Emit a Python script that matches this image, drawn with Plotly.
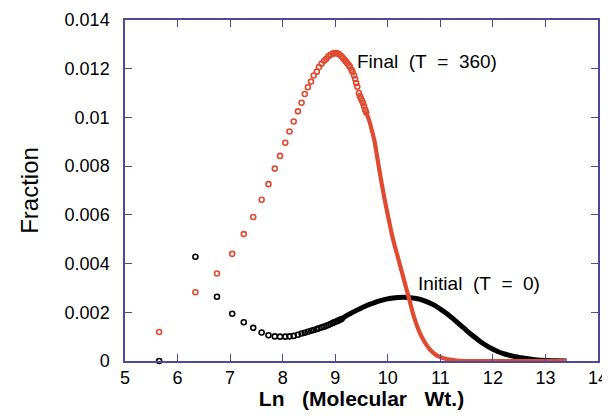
import plotly.graph_objects as go

# ---- data ----
# Final (T = 360): individually visible points
final_pts_x = [5.65, 6.34, 6.75, 7.04, 7.26, 7.44, 7.60, 7.73, 7.85, 7.95, 8.05, 8.13, 8.21, 8.29,
               8.36, 8.42, 8.48, 8.54, 8.59, 8.65, 8.69, 8.74, 8.79, 8.83, 8.87, 8.91, 8.95, 8.98,
               9.02, 9.05, 9.08, 9.12, 9.15, 9.18, 9.20, 9.23, 9.26, 9.28, 9.31, 9.33, 9.36, 9.38,
               9.40, 9.42, 9.45, 9.47, 9.49, 9.51, 9.53, 9.55, 9.57, 9.59]
final_pts_y = [0.00119, 0.00282, 0.00359, 0.00440, 0.00521, 0.00591, 0.00662, 0.00726, 0.00790,
               0.00842, 0.00896, 0.00942, 0.00983, 0.01025, 0.01060, 0.01096, 0.01124, 0.01147,
               0.01172, 0.01188, 0.01207, 0.01220, 0.01233, 0.01241, 0.01251, 0.01257, 0.01261,
               0.01264, 0.01264, 0.01262, 0.01258, 0.01251, 0.01243, 0.01236, 0.01230, 0.01222,
               0.01214, 0.01208, 0.01196, 0.01187, 0.01172, 0.01158, 0.01141, 0.01126, 0.01100,
               0.01088, 0.01078, 0.01068, 0.01058, 0.01045, 0.01031, 0.01020]
# Final: dense region (points merge into a band)
final_dense_x = [9.59, 9.65, 9.70, 9.75, 9.80, 9.90, 10.0, 10.1, 10.2, 10.3, 10.4, 10.5, 10.6, 10.7,
                 10.8, 10.9, 11.0, 11.1, 11.2, 11.3, 11.5, 12.0, 12.5, 13.0, 13.4]
final_dense_y = [0.01020, 0.00985, 0.00944, 0.00900, 0.00835, 0.00710, 0.00600, 0.00500, 0.00420,
                 0.00340, 0.00260, 0.00180, 0.00120, 0.00078, 0.00048, 0.00028, 0.00016, 0.00009,
                 0.00005, 0.00002, 0.0, 0.0, 0.0, 0.0, 0.0]

# Initial (T = 0): individually visible points
init_pts_x = [5.65, 6.34, 6.75, 7.04, 7.26, 7.44, 7.60, 7.73, 7.85, 7.95, 8.05, 8.13, 8.21, 8.29,
              8.36, 8.42, 8.48, 8.54, 8.59, 8.65, 8.69, 8.74, 8.79, 8.83, 8.87, 8.91, 8.95, 8.98,
              9.02, 9.05, 9.08, 9.12]
init_pts_y = [0.0, 0.00428, 0.00264, 0.00194, 0.00159, 0.00136, 0.00117, 0.00106, 0.00101,
              0.00100, 0.00100, 0.00101, 0.00103, 0.00108, 0.00113, 0.00116, 0.00120, 0.00124,
              0.00127, 0.00131, 0.00134, 0.00138, 0.00141, 0.00145, 0.00148, 0.00152, 0.00156,
              0.00159, 0.00162, 0.00165, 0.00168, 0.00172]
# Initial: dense region
init_dense_x = [9.12, 9.2, 9.3, 9.4, 9.5, 9.6, 9.7, 9.8, 9.9, 10.0, 10.1, 10.2, 10.3, 10.4, 10.5,
                10.6, 10.7, 10.8, 10.9, 11.0, 11.1, 11.2, 11.3, 11.4, 11.5, 11.6, 11.7, 11.8,
                11.9, 12.0, 12.1, 12.2, 12.3, 12.4, 12.5, 12.6, 12.7, 12.8, 12.9, 13.0, 13.2, 13.4]
init_dense_y = [0.00172, 0.00184, 0.00196, 0.00207, 0.00218, 0.00228, 0.00236, 0.00244, 0.00250,
                0.00255, 0.00259, 0.00261, 0.00262, 0.00261, 0.00258, 0.00254, 0.00247, 0.00238,
                0.00227, 0.00213, 0.00198, 0.00181, 0.00163, 0.00144, 0.00125, 0.00107, 0.00090,
                0.00074, 0.00060, 0.00048, 0.00038, 0.00030, 0.00024, 0.00019, 0.00015, 0.00011,
                0.00008, 0.00005, 0.00003, 0.00002, 0.00001, 0.0]

y_tickvals = [0, 0.002, 0.004, 0.006, 0.008, 0.010, 0.012, 0.014]
y_ticktext = ["0", "0.002", "0.004", "0.006", "0.008", "0.01", "0.012", "0.014"]
x_tickvals = [5, 6, 7, 8, 9, 10, 11, 12, 13, 14]

RED = "#e04a30"
BLACK = "#000000"
AXIS = "#4b4b9c"
FONT = "Liberation Sans, Arial, sans-serif"
SP = "\u00a0\u00a0"
SP3 = "\u00a0\u00a0\u00a0"

fig = go.Figure()

fig.add_trace(go.Scatter(x=init_dense_x, y=init_dense_y, mode="lines",
                         line=dict(color=BLACK, width=5, shape="spline"),
                         cliponaxis=False, showlegend=False))
fig.add_trace(go.Scatter(x=init_pts_x, y=init_pts_y, mode="markers",
                         marker=dict(symbol="circle-open", size=5, color=BLACK, line=dict(width=1.6)),
                         cliponaxis=False, showlegend=False))
fig.add_trace(go.Scatter(x=final_dense_x, y=final_dense_y, mode="lines",
                         line=dict(color=RED, width=4.2, shape="spline"),
                         cliponaxis=False, showlegend=False))
fig.add_trace(go.Scatter(x=final_pts_x, y=final_pts_y, mode="markers",
                         marker=dict(symbol="circle-open", size=5, color=RED, line=dict(width=1.6)),
                         cliponaxis=False, showlegend=False))

fig.add_annotation(x=9.41, y=0.01229, text="Final" + SP + "(T" + SP + "=" + SP + "360)", showarrow=False,
                   xanchor="left", yanchor="middle", xshift=-2,
                   font=dict(family=FONT, size=19, color="black"))
fig.add_annotation(x=10.57, y=0.00319, text="Initial" + SP + "(T" + SP + "=" + SP + "0)", showarrow=False,
                   xanchor="left", yanchor="middle", xshift=-2,
                   font=dict(family=FONT, size=19, color="black"))

fig.update_xaxes(range=[5, 14], tickvals=x_tickvals, ticks="inside", ticklen=7, tickwidth=1.3,
                 tickcolor=AXIS, showline=True, linecolor=AXIS, linewidth=1.5, mirror="ticks",
                 showgrid=False, zeroline=False, automargin=False,
                 tickfont=dict(family=FONT, size=18, color="black"),
                 title=dict(text="<b>Ln" + SP3 + "(Molecular" + SP3 + "Wt.)</b>", standoff=6,
                            font=dict(family=FONT, size=21, color="black")))
fig.update_yaxes(range=[0, 0.014], tickvals=y_tickvals, ticktext=y_ticktext, ticks="inside",
                 ticklen=7, tickwidth=1.3, tickcolor=AXIS, showline=True, linecolor=AXIS,
                 linewidth=1.5, mirror="ticks", showgrid=False, zeroline=False, automargin=False,
                 ticklabelstandoff=10,
                 tickfont=dict(family=FONT, size=18, color="black"),
                 title=dict(text="Fraction", standoff=19,
                            font=dict(family=FONT, size=24, color="black")))

fig.update_layout(width=602, height=402, margin=dict(l=117, r=12, t=12, b=49, pad=0),
                  paper_bgcolor="white", plot_bgcolor="white")

fig.write_html("out.html")
